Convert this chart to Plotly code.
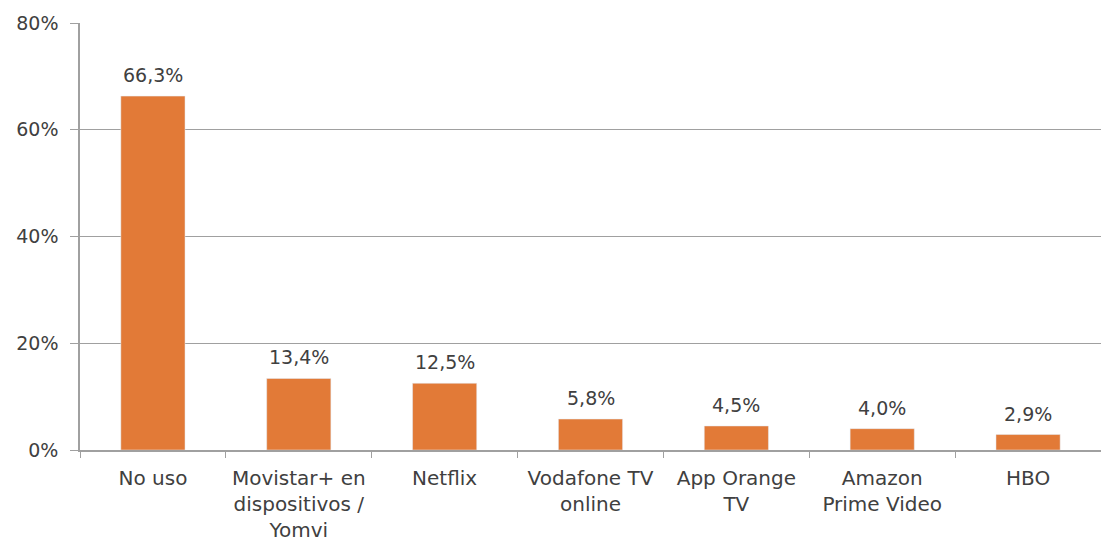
import plotly.graph_objects as go

categories = ["No uso", "Movistar+ en<br>dispositivos /<br>Yomvi", "Netflix",
              "Vodafone TV<br>online", "App Orange<br>TV", "Amazon<br>Prime Video", "HBO"]
values = [66.3, 13.4, 12.5, 5.8, 4.5, 4.0, 2.9]
y_ticks = [0, 20, 40, 60, 80]
y_tick_labels = ["0%", "20%", "40%", "60%", "80%"]
value_labels = ["66,3%", "13,4%", "12,5%", "5,8%", "4,5%", "4,0%", "2,9%"]

FONT = "DejaVu Sans, Liberation Sans, Arial"

fig = go.Figure(go.Bar(
    x=categories, y=values,
    marker=dict(color="#E27A37"),
    width=0.44,
))

for c, v, t in zip(categories, values, value_labels):
    fig.add_annotation(x=c, y=v, text=t, showarrow=False,
                       yanchor="bottom", yshift=8,
                       font=dict(size=19, color="#404040", family=FONT))

fig.update_layout(
    width=1101, height=542,
    margin=dict(l=80, r=0, t=23, b=92),
    paper_bgcolor="white", plot_bgcolor="white",
    font=dict(family=FONT, size=19, color="#404040"),
    showlegend=False,
)
fig.update_xaxes(
    showline=True, linecolor="#A0A0A0", linewidth=1.5,
    ticks="outside", tickson="boundaries", ticklen=6, tickcolor="#A0A0A0",
    tickfont=dict(size=20, color="#404040", family=FONT),
    ticklabelstandoff=9,
)
fig.update_yaxes(
    range=[0, 80], tickvals=y_ticks, ticktext=y_tick_labels,
    showgrid=True, gridcolor="#A0A0A0", gridwidth=1,
    showline=True, linecolor="#A0A0A0", linewidth=1.5,
    ticks="outside", ticklen=8, tickcolor="#A0A0A0",
    tickfont=dict(size=19, color="#404040", family=FONT),
    ticklabelstandoff=8,
    zeroline=False,
)

fig.write_html("out.html")
